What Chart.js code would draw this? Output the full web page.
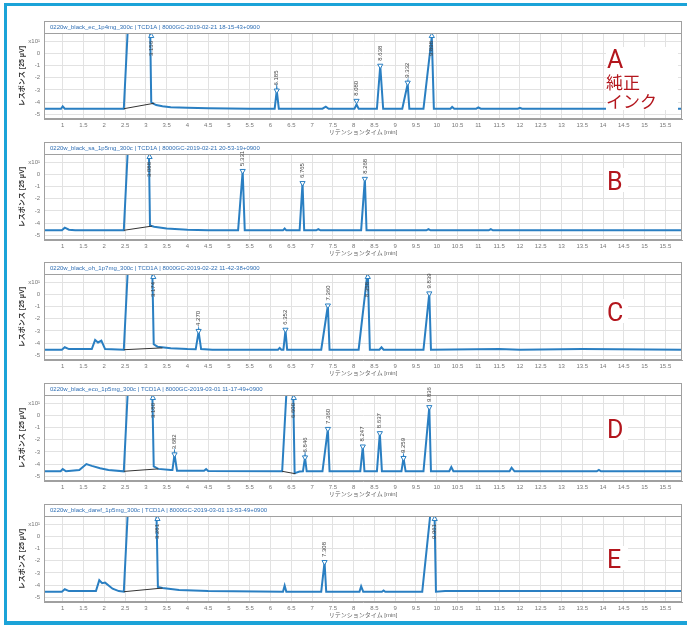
<!DOCTYPE html>
<html><head><meta charset="utf-8">
<script src="https://cdn.jsdelivr.net/npm/chart.js@4.4.1/dist/chart.umd.min.js"></script>
<style>
html,body{margin:0;padding:0;background:#fff;}
#wrap{position:relative;width:687px;height:626px;overflow:hidden;background:#fff;}
#frame{position:absolute;left:4px;top:3px;width:683px;height:615px;border-left:3px solid #1ba3d8;border-top:3px solid #1ba3d8;border-bottom:4px solid #1ba3d8;box-sizing:content-box;}
canvas{position:absolute;left:0;}
.box{position:absolute;background:#fff;color:#b3161d;font-family:Roboto,"Noto Sans",sans-serif;line-height:1;z-index:5;}
.big{font-size:25px;display:block;}
.jp{font-family:"Noto Sans CJK JP",sans-serif;font-size:17px;display:block;line-height:1;}
</style></head><body>
<div id="wrap"><div id="frame"></div></div>
<script>
// ---- data ----
const xTickValues = [1,1.5,2,2.5,3,3.5,4,4.5,5,5.5,6,6.5,7,7.5,8,8.5,9,9.5,10,10.5,11,11.5,12,12.5,13,13.5,14,14.5,15,15.5];
const yTickValues = [-5,-4,-3,-2,-1,0,1];
const xTitle = 'リテンションタイム [min]';
const yTitle = 'レスポンス [25 μV]';

const titleA = '0220w_black_ec_1p4mg_300c | TCD1A | 8000GC-2019-02-21 18-15-43+0900';
const titleB = '0220w_black_sa_1p5mg_300c | TCD1A | 8000GC-2019-02-21 20-53-19+0900';
const titleC = '0220w_black_oh_1p7mg_300c | TCD1A | 8000GC-2019-02-22 11-42-38+0900';
const titleD = '0220w_black_eco_1p5mg_300c | TCD1A | 8000GC-2019-03-01 11-17-49+0900';
const titleE = '0220w_black_daref_1p5mg_300c | TCD1A | 8000GC-2019-03-01 13-53-49+0900';

// trace points [time (min), response (x10 of 25 uV)]
const traceA = [[0.55,-4.55],[0.96,-4.55],[1.0,-4.35],[1.05,-4.55],[2.47,-4.55],[2.58,3],[3.1,3],[3.13,-4.0],[3.17,-4.12],[3.25,-4.25],[3.4,-4.35],[3.6,-4.42],[4.0,-4.48],[4.5,-4.52],[5.5,-4.55],[6.1,-4.55],[6.15,-3.05],[6.2,-4.55],[7.25,-4.55],[7.33,-4.38],[7.4,-4.55],[8.02,-4.55],[8.07,-4.2],[8.12,-4.55],[8.56,-4.55],[8.64,-1.0],[8.71,-4.55],[9.17,-4.55],[9.3,-2.5],[9.34,-4.55],[9.68,-4.55],[9.88,1.4],[9.93,-4.55],[10.33,-4.55],[10.37,-4.4],[10.42,-4.55],[10.95,-4.55],[11.0,-4.45],[11.06,-4.55],[11.95,-4.55],[12.0,-4.47],[12.05,-4.55],[15.9,-4.55]];
const traceB = [[0.55,-4.6],[0.98,-4.6],[1.05,-4.38],[1.15,-4.55],[1.3,-4.6],[2.47,-4.6],[2.58,3],[3.07,3],[3.1,-4.2],[3.2,-4.3],[3.5,-4.45],[4.0,-4.55],[4.5,-4.6],[5.22,-4.6],[5.33,0.3],[5.38,-4.6],[6.3,-4.6],[6.34,-4.45],[6.38,-4.6],[6.7,-4.6],[6.77,-0.7],[6.81,-4.6],[7.1,-4.6],[7.15,-4.5],[7.2,-4.6],[8.18,-4.6],[8.27,-0.35],[8.31,-4.6],[9.75,-4.6],[9.8,-4.5],[9.85,-4.6],[11.25,-4.6],[11.3,-4.5],[11.35,-4.6],[15.9,-4.6]];
const traceC = [[0.55,-4.55],[0.98,-4.55],[1.05,-4.35],[1.15,-4.5],[1.7,-4.5],[1.78,-3.75],[1.85,-3.95],[1.93,-3.8],[2.02,-4.5],[2.47,-4.55],[2.58,3],[3.15,3],[3.19,-4.1],[3.28,-4.3],[3.6,-4.42],[4.0,-4.5],[4.2,-4.52],[4.27,-3.05],[4.33,-4.5],[4.6,-4.55],[6.18,-4.55],[6.22,-4.4],[6.26,-4.55],[6.31,-4.55],[6.36,-2.95],[6.4,-4.55],[7.22,-4.55],[7.38,-0.9],[7.42,-4.55],[8.12,-4.55],[8.34,2.0],[8.39,-4.55],[8.62,-4.55],[8.67,-4.35],[8.72,-4.55],[9.68,-4.55],[9.82,0.1],[9.86,-4.55],[11.5,-4.5],[12.0,-4.55],[13.5,-4.5],[15.9,-4.55]];
const traceD = [[0.55,-4.6],[0.95,-4.6],[1.0,-4.42],[1.08,-4.6],[1.4,-4.5],[1.57,-4.0],[1.7,-4.15],[1.9,-4.35],[2.1,-4.5],[2.47,-4.6],[2.58,3],[3.15,3],[3.19,-4.2],[3.3,-4.4],[3.6,-4.5],[3.64,-4.5],[3.69,-3.2],[3.75,-4.55],[4.4,-4.55],[4.45,-4.42],[4.5,-4.58],[6.28,-4.6],[6.4,3],[6.54,3],[6.58,-4.75],[6.7,-4.62],[6.78,-4.6],[6.83,-3.45],[6.87,-4.6],[7.25,-4.6],[7.38,-1.1],[7.42,-4.6],[8.16,-4.6],[8.22,-2.55],[8.26,-4.6],[8.56,-4.6],[8.63,-1.45],[8.68,-4.6],[9.15,-4.6],[9.2,-3.5],[9.25,-4.6],[9.68,-4.6],[9.82,0.7],[9.86,-4.6],[10.3,-4.6],[10.35,-4.25],[10.4,-4.6],[11.75,-4.6],[11.8,-4.3],[11.87,-4.6],[13.85,-4.6],[13.9,-4.48],[13.95,-4.6],[15.9,-4.6]];
const traceE = [[0.55,-4.55],[0.98,-4.55],[1.05,-4.35],[1.15,-4.5],[1.8,-4.5],[1.88,-3.6],[1.95,-3.85],[2.02,-3.8],[2.2,-4.3],[2.35,-4.5],[2.47,-4.55],[2.58,3],[3.25,3],[3.29,-4.15],[3.4,-4.25],[3.8,-4.4],[4.5,-4.5],[6.3,-4.55],[6.34,-4.05],[6.38,-4.55],[7.22,-4.55],[7.3,-2.1],[7.34,-4.55],[8.14,-4.55],[8.18,-4.1],[8.23,-4.55],[8.68,-4.55],[8.72,-4.45],[8.76,-4.55],[9.65,-4.55],[9.88,3],[9.94,3],[9.98,-4.55],[10.2,-4.5],[15.9,-4.5]];

// integration baselines
const baseA = [[2.47,-4.55],[3.2,-4.1]];
const baseB = [[2.47,-4.6],[3.15,-4.25]];
const baseC = [[2.47,-4.55],[3.4,-4.4]];
const baseD = [[2.47,-4.6],[3.3,-4.4],null,[6.28,-4.6],[6.6,-4.8]];
const baseE = [[2.47,-4.55],[3.4,-4.25]];

// peak markers
const peakTimesA = [3.13,6.15,8.07,8.64,9.3,9.88];
const peakMarkA  = [1.45,-3.05,-3.9,-1.0,-2.4,1.45];
const peakLabelsA = ['3.156','6.185','8.080','8.638','9.332','9.898'];
const peakTimesB = [3.09,5.33,6.77,8.27];
const peakMarkB  = [1.45,0.3,-0.7,-0.35];
const peakLabelsB = ['3.088','5.331','6.765','8.268'];
const peakTimesC = [3.18,4.27,6.36,7.38,8.34,9.82];
const peakMarkC  = [1.45,-3.0,-2.9,-0.9,1.45,0.1];
const peakLabelsC = ['3.174','4.270','6.352','7.360','8.358','9.839'];
const peakTimesD = [3.17,3.69,6.56,6.83,7.38,8.22,8.63,9.2,9.82];
const peakMarkD  = [1.45,-3.2,1.45,-3.45,-1.1,-2.55,-1.45,-3.5,0.7];
const peakLabelsD = ['3.180','3.682','6.600','6.846','7.360','8.247','8.637','9.259','9.836'];
const peakTimesE = [3.28,7.3,9.95];
const peakMarkE  = [1.45,-2.1,1.45];
const peakLabelsE = ['3.281','7.308','9.961'];

// ---- build ----
const panels = [
  {top:21, title:titleA, trace:traceA, base:baseA, pt:peakTimesA, pm:peakMarkA, pl:peakLabelsA},
  {top:142, title:titleB, trace:traceB, base:baseB, pt:peakTimesB, pm:peakMarkB, pl:peakLabelsB},
  {top:262, title:titleC, trace:traceC, base:baseC, pt:peakTimesC, pm:peakMarkC, pl:peakLabelsC},
  {top:383, title:titleD, trace:traceD, base:baseD, pt:peakTimesD, pm:peakMarkD, pl:peakLabelsD},
  {top:504, title:titleE, trace:traceE, base:baseE, pt:peakTimesE, pm:peakMarkE, pl:peakLabelsE}
];
Chart.defaults.font.family = '"Liberation Sans","Noto Sans CJK JP",sans-serif';
const wrap = document.getElementById('wrap');
const LINE = '#2a7fc2';

function makeChart(p){
  const c = document.createElement('canvas');
  c.width = 687; c.height = 122; c.style.top = p.top + 'px';
  wrap.appendChild(c);
  const plug = {
    id:'panelDeco',
    afterDraw(chart){
      const {ctx, chartArea:a, scales:{x,y}} = chart;
      ctx.save();
      ctx.strokeStyle = '#a0a0a0'; ctx.lineWidth = 1;
      ctx.strokeRect(a.left+0.5, 0.5, a.right-a.left-1, a.bottom-1);
      ctx.beginPath(); ctx.moveTo(a.left, a.top+0.5); ctx.lineTo(a.right, a.top+0.5); ctx.stroke();
      ctx.fillStyle = '#2f6fb5'; ctx.font = '6px "Liberation Sans",sans-serif';
      ctx.textBaseline = 'middle'; ctx.textAlign = 'left';
      ctx.fillText(p.title, a.left+6, a.top/2+0.5);
      ctx.fillStyle = '#444'; ctx.font = '6px "Liberation Sans",sans-serif';
      p.pt.forEach((t,i)=>{
        const v = p.pm[i];
        const px = x.getPixelForValue(t), py = y.getPixelForValue(v);
        ctx.save(); ctx.translate(px, py); ctx.rotate(-Math.PI/2);
        ctx.textBaseline = 'middle';
        if (v > 1) { ctx.textAlign = 'right'; ctx.fillText(p.pl[i], -5, 0); }
        else { ctx.textAlign = 'left'; ctx.fillText(p.pl[i], 5, 0); }
        ctx.restore();
      });
      ctx.restore();
    }
  };
  new Chart(c, {
    type:'line',
    data:{datasets:[
      {data:p.pt.map((t,i)=>({x:t,y:p.pm[i]})), showLine:false, pointStyle:'triangle', pointRadius:3,
       pointRotation:p.pm.map(v=>v>1?0:180), pointBorderColor:LINE, pointBackgroundColor:'#fff', pointBorderWidth:1, clip:false, order:0},
      {data:p.base.map(b=>b?{x:b[0],y:b[1]}:{x:null,y:null}), borderColor:'#333', borderWidth:1, pointRadius:0, spanGaps:false, order:1},
      {data:p.trace.map(q=>({x:q[0],y:q[1]})), borderColor:LINE, borderWidth:2, pointRadius:0, tension:0, order:2}
    ]},
    options:{
      responsive:false, animation:false, events:[],
      layout:{padding:{top:12,right:4,left:0,bottom:0}},
      plugins:{legend:{display:false}, tooltip:{enabled:false}},
      scales:{
        x:{type:'linear', min:0.55, max:15.9,
           afterBuildTicks:s=>{s.ticks = xTickValues.map(v=>({value:v}));},
           afterFit:s=>{s.height = 24;},
           grid:{color:'#e2e2e2', drawTicks:false}, border:{color:'#a0a0a0'},
           ticks:{font:{size:6}, color:'#777', padding:3, maxRotation:0, autoSkip:false, callback:v=>String(v)},
           title:{display:true, text:xTitle, font:{size:6}, color:'#666', padding:{top:0,bottom:7}}},
        y:{min:-5.4, max:1.7,
           afterBuildTicks:s=>{s.ticks = yTickValues.map(v=>({value:v}));},
           afterFit:s=>{s.width = 44;},
           grid:{color:'#e2e2e2', drawTicks:false}, border:{color:'#a0a0a0'},
           ticks:{font:{size:6}, color:'#777', padding:4, callback:v=>v===1?'x10¹':String(v)},
           title:{display:true, text:yTitle, font:{size:7, weight:'bold'}, color:'#333', padding:{top:18,bottom:0}}}
      }
    },
    plugins:[plug]
  });
}
panels.forEach(makeChart);

// big panel letters
function addBox(left, top, w, h, html){
  const d = document.createElement('div');
  d.className = 'box';
  d.style.left = left+'px'; d.style.top = top+'px'; d.style.width = w+'px'; d.style.height = h+'px';
  d.innerHTML = html; wrap.appendChild(d);
}
addBox(606, 47, 72, 63, '<span class="big" style="margin-left:1px">A</span><span class="jp" style="margin-top:1px">純正</span><span class="jp" style="margin-top:2px">インク</span>');
addBox(604, 168, 24, 24, '<span class="big" style="margin-left:3px;margin-top:1px">B</span>');
addBox(604, 299, 24, 24, '<span class="big" style="margin-left:3px;margin-top:1px">C</span>');
addBox(604, 416, 24, 24, '<span class="big" style="margin-left:3px;margin-top:1px">D</span>');
addBox(604, 546, 24, 24, '<span class="big" style="margin-left:3px;margin-top:1px">E</span>');
</script>
</body></html>
